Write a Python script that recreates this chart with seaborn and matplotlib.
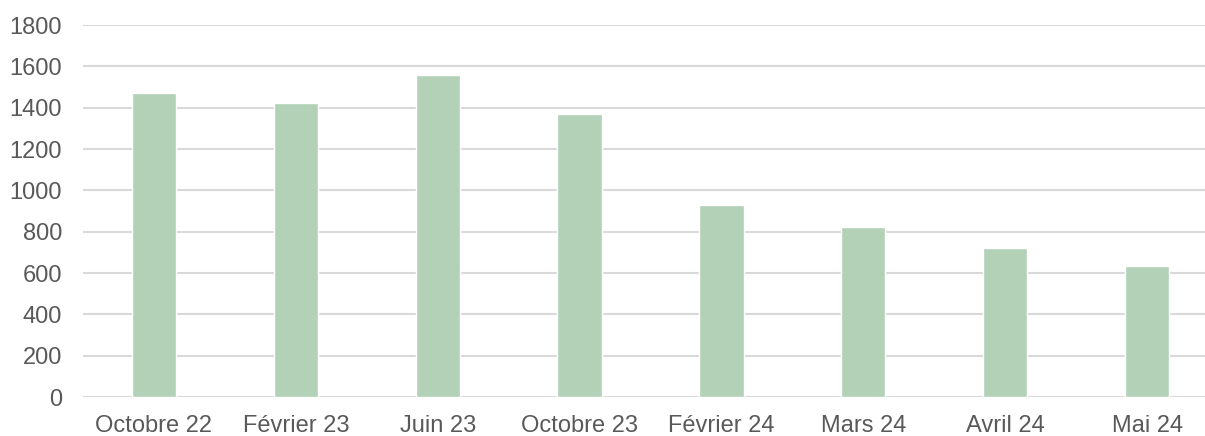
import matplotlib
matplotlib.use("Agg")
import matplotlib.pyplot as plt
import seaborn as sns
import pandas as pd

# Data
periods = ["Octobre 22", "Février 23", "Juin 23", "Octobre 23",
           "Février 24", "Mars 24", "Avril 24", "Mai 24"]
values = [1470, 1421, 1556, 1368, 929, 821, 721, 636]
y_ticks = [0, 200, 400, 600, 800, 1000, 1200, 1400, 1600, 1800]

BAR_COLOR = "#B3D1B7"
GRID_COLOR = "#D9D9D9"
TEXT_COLOR = "#595959"

sns.set_style("white")
plt.rcParams["font.family"] = ["Liberation Sans", "DejaVu Sans"]

df = pd.DataFrame({"periode": periods, "valeur": values})

fig = plt.figure(figsize=(12.05, 4.36), dpi=100)
ax = fig.add_axes([83 / 1205, 1 - 397 / 436, 1135 / 1205, 372 / 436])

sns.barplot(data=df, x="periode", y="valeur", color=BAR_COLOR,
            width=0.3125, saturation=1, ax=ax, zorder=3)

ax.set_ylim(0, 1800)
ax.set_xlim(-0.5, len(periods) - 0.5)
ax.set_yticks(y_ticks)
ax.yaxis.grid(True, color=GRID_COLOR, linewidth=1.5, zorder=0)
ax.set_axisbelow(True)
for side in ["top", "right", "left", "bottom"]:
    ax.spines[side].set_visible(False)

ax.set_xlabel("")
ax.set_ylabel("")
ax.tick_params(axis="y", length=0, pad=15, labelsize=17, labelcolor=TEXT_COLOR)
ax.tick_params(axis="x", length=0, pad=13, labelsize=17, labelcolor=TEXT_COLOR)

fig.savefig("out.png", dpi=100)
